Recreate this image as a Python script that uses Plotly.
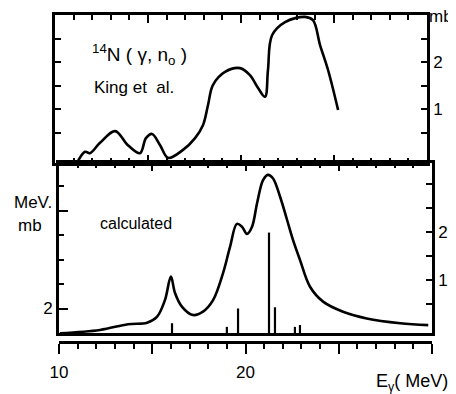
import plotly.graph_objects as go

# ---------------- data ----------------
# Top panel: 14N(gamma,n0), King et al. (mb)
top_E = [11.18, 11.61, 11.88, 12.42, 13.23, 13.92, 14.57, 14.89, 15.22, 15.65, 16.08,
         16.88, 17.53, 17.96, 18.23, 18.49, 19.14, 19.95, 20.48, 20.91, 21.29, 21.45,
         21.67, 22.37, 23.44, 23.87, 24.25, 24.68, 25.22]
top_sigma = [-0.15, 0.09, 0.06, 0.28, 0.53, 0.23, 0.06, 0.38, 0.47, 0.23, -0.04,
             0.13, 0.38, 0.66, 1.09, 1.51, 1.79, 1.87, 1.72, 1.45, 1.26, 1.83,
             2.57, 2.85, 2.96, 2.89, 2.36, 1.83, 0.98]

# Bottom panel: calculated (mb, right axis)
calc_E = [10.05, 12.2, 13.7, 14.72, 15.25, 15.68, 16.0, 16.22, 16.6, 17.18, 17.72,
          18.26, 18.8, 19.17, 19.54, 19.81, 20.08, 20.35, 20.62, 20.94, 21.2, 21.47,
          21.85, 22.23, 22.55, 22.92, 23.46, 24.16, 25.23, 26.5, 28.3, 29.8]
calc_sigma = [-0.11, -0.04, 0.08, 0.11, 0.23, 0.58, 1.07, 0.73, 0.44, 0.27, 0.34,
              0.58, 1.15, 1.69, 2.17, 2.11, 1.96, 2.11, 2.6, 3.08, 3.19, 3.12,
              2.74, 2.25, 1.83, 1.42, 0.86, 0.55, 0.34, 0.2, 0.1, 0.06]

# Discrete strengths (MeV.mb, left axis)
stick_E = [16.06, 19.0, 19.6, 21.26, 21.58, 22.65, 22.92]
stick_S = [0.8, 0.5, 2.0, 8.2, 2.1, 0.5, 0.65]

x_major = [10, 15, 20, 25, 30]
x_labels = ["10", " ", "20", " ", " "]
right_ticks = [0.5, 1, 1.5, 2, 2.5, 3]
right_labels = [" ", "1", " ", "2", " ", " "]
left_ticks = [2, 10]
left_labels = ["2", " "]

# ---------------- geometry helpers ----------------
# page body has an 8px margin, so the figure starts at (8, 8) of the window
OFF = 8
W, H = 456 - OFF, 394 - OFF
def fx(px):
    return (px - OFF) / W
def fy(py):
    return 1 - (py - OFF) / H

FONT = "Liberation Sans, Arial, sans-serif"
LW = 2.6

# stick segments
sx, sy = [], []
for e, s in zip(stick_E, stick_S):
    sx += [e, e, None]
    sy += [0, s, None]

fig = go.Figure()
fig.add_trace(go.Scatter(x=top_E, y=top_sigma, mode="lines", line=dict(color="black", width=LW),
                         xaxis="x", yaxis="y", hoverinfo="skip", line_shape="spline"))
fig.add_trace(go.Scatter(x=calc_E, y=calc_sigma, mode="lines", line=dict(color="black", width=LW),
                         xaxis="x2", yaxis="y2", hoverinfo="skip", line_shape="spline"))
fig.add_trace(go.Scatter(x=sx, y=sy, mode="lines", line=dict(color="black", width=2.2),
                         xaxis="x2", yaxis="y3", hoverinfo="skip"))
fig.add_trace(go.Scatter(x=[], y=[], mode="lines", xaxis="x3", yaxis="y2", hoverinfo="skip"))

axis_common = dict(showgrid=False, zeroline=False, showline=True, linecolor="black",
                   linewidth=LW, tickcolor="black", tickwidth=2, automargin=False,
                   tickfont=dict(family=FONT, size=17, color="black"))

fig.update_layout(
    template="none",
    width=W, height=H, autosize=False,
    margin=dict(l=0, r=0, t=0, b=0, pad=0),
    paper_bgcolor="white", plot_bgcolor="white",
    showlegend=False,
    xaxis=dict(domain=[fx(55), fx(427)], range=[10, 30], anchor="y",
               ticks="inside", mirror="ticks", tickvals=x_major, ticklen=8,
               showticklabels=False,
               minor=dict(dtick=1, tick0=10, ticks="inside", ticklen=5, tickcolor="black", tickwidth=2),
               **axis_common),
    yaxis=dict(domain=[fy(163), fy(15)], range=[-0.149, 3.0], anchor="x", side="right",
               ticks="inside", mirror="ticks", tickvals=right_ticks, ticktext=right_labels,
               ticklen=6, **axis_common),
    xaxis2=dict(domain=[fx(59), fx(432)], range=[10, 30], anchor="y2", side="top",
                ticks="inside", mirror=True, tickvals=x_major, ticklen=8,
                showticklabels=False,
                minor=dict(dtick=1, tick0=10, ticks="inside", ticklen=5, tickcolor="black", tickwidth=2),
                **axis_common),
    yaxis2=dict(domain=[fy(333), fy(163)], range=[-0.104, 3.4375], anchor="x2", side="right",
                ticks="inside", mirror=True, tickvals=right_ticks, ticktext=right_labels,
                ticklen=6, **axis_common),
    yaxis3=dict(range=[0, 13.88], overlaying="y2", anchor="x2", side="left",
                ticks="inside", tickvals=left_ticks, ticktext=left_labels, ticklen=9,
                minor=dict(tickvals=[4, 6, 8, 12], ticks="inside", ticklen=5, tickcolor="black", tickwidth=2),
                **axis_common),
    xaxis3=dict(range=[10, 30], overlaying="x2", anchor="free", position=fy(342), side="bottom",
                ticks="outside", tickvals=x_major, ticktext=x_labels, ticklen=10,
                minor=dict(dtick=1, tick0=10, ticks="outside", ticklen=5, tickcolor="black", tickwidth=2),
                ticklabelstandoff=4,
                **axis_common),
)

def ann(text, px, py, size=16):
    fig.add_annotation(text=text, x=fx(px), y=fy(py), xref="paper", yref="paper",
                       showarrow=False, xanchor="center", yanchor="middle",
                       font=dict(family=FONT, size=size, color="black"))

ann("mb", 441, 17, 17)
ann("<sup>14</sup>N ( γ, n<sub>o</sub> )", 139, 55, 19)
ann("King et  al.", 134, 87, 17)
ann("MeV.", 33, 202, 17)
ann("mb", 30, 225, 17)
ann("calculated", 136, 223, 16)
ann("E<sub>γ</sub>( MeV)", 412, 382, 18)

fig.write_html("out.html")
